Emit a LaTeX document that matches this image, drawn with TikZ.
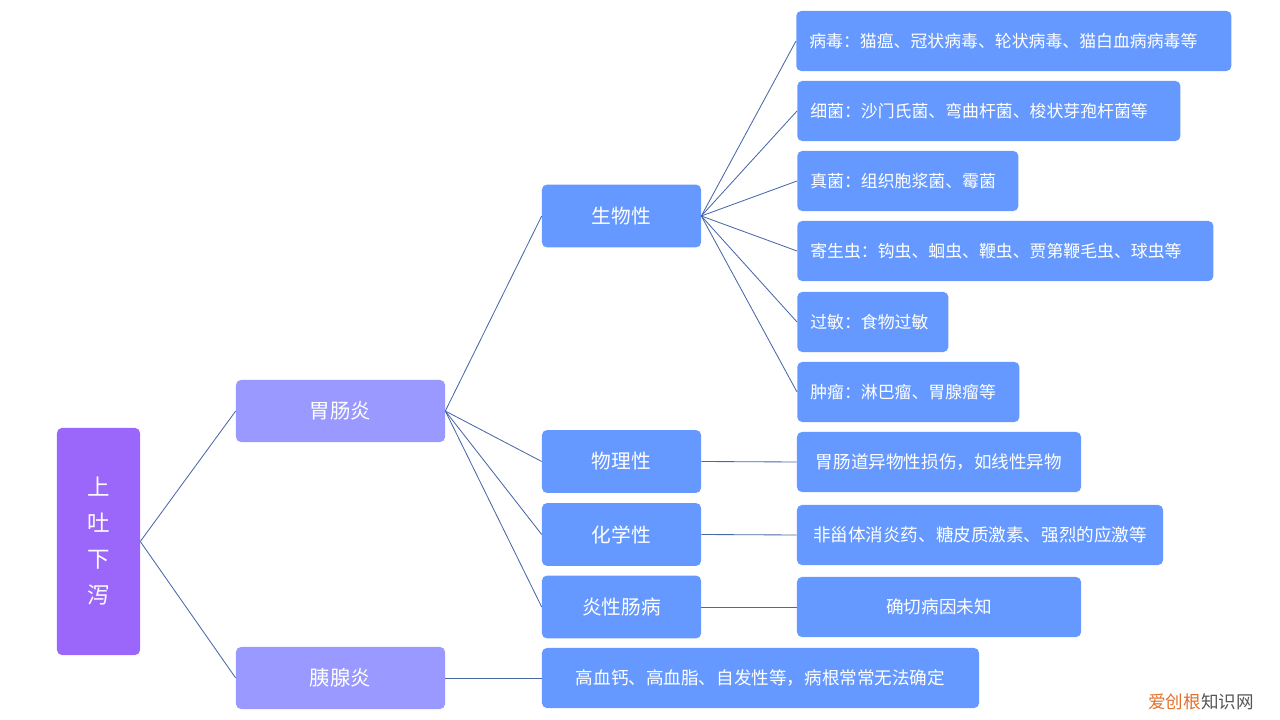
\documentclass[tikz,border=0pt]{standalone}
\usepackage{fontspec}
\setmainfont{Noto Sans CJK SC}
\usetikzlibrary{positioning}

\definecolor{rootpurple}{HTML}{9B66FA}
\definecolor{lavender}{HTML}{9999FF}
\definecolor{boxblue}{HTML}{6699FF}
\definecolor{linkblue}{HTML}{4A67A8}
\definecolor{markorange}{HTML}{E0702A}
\definecolor{markgray}{HTML}{555555}

\begin{document}
\begin{tikzpicture}[
  x = 0.025cm, y = -0.025cm,
  % ── Base box ────────────────────────────────────────────
  box/.style={
    rectangle,
    rounded corners = 3.5pt,
    draw            = none,
    text            = white,
    align           = center,
    inner sep       = 0pt
  },
  % ── Root (vertical text) ────────────────────────────────
  rootbox/.style={
    box,
    fill           = rootpurple,
    minimum width  = 2.075cm,
    minimum height = 5.675cm,
    font           = \fontsize{16}{25.6}\selectfont
  },
  % ── Disease level ───────────────────────────────────────
  disbox/.style={
    box,
    fill           = lavender,
    minimum width  = 5.225cm,
    minimum height = 1.55cm,
    font           = \fontsize{14.5}{16}\selectfont
  },
  % ── Cause type level ────────────────────────────────────
  typebox/.style={
    box,
    fill           = boxblue,
    minimum width  = 3.975cm,
    minimum height = 1.57cm,
    font           = \fontsize{14}{16}\selectfont
  },
  % ── Detail, left aligned ────────────────────────────────
  leafl/.style={
    box,
    fill           = boxblue,
    anchor         = west,
    inner xsep     = 0.325cm,
    text width     = #1,
    align          = left,
    minimum height = 1.5cm,
    font           = \fontsize{12}{14}\selectfont
  },
  % ── Detail, centred ─────────────────────────────────────
  leafc/.style={
    box,
    fill           = boxblue,
    minimum width  = #1,
    minimum height = 1.5cm,
    font           = \fontsize{12.5}{14}\selectfont
  },
  % ── Connector ───────────────────────────────────────────
  link/.style={
    draw       = linkblue,
    line width = 0.6pt
  }
]

\useasboundingbox (0,0) rectangle (1280,720);

% ── Nodes ──────────────────────────────────────────────────
\node[rootbox] (root) at (98.5,541.5) {上\\吐\\下\\泻};

\node[disbox] (gastro) at (340.5,411) {胃肠炎};
\node[disbox] (pancr)  at (340.5,678) {胰腺炎};

\node[typebox] (bio)  at (621.5,216)   {生物性};
\node[typebox] (phys) at (621.5,461.5) {物理性};
\node[typebox] (chem) at (621.5,534.5) {化学性};
\node[typebox] (ibd)  at (621.5,607)   {炎性肠病};

\node[leafl=10.225cm] (virus)  at (796,41)  {病毒：猫瘟、冠状病毒、轮状病毒、猫白血病病毒等};
\node[leafl=8.925cm]  (bact)   at (797,111) {细菌：沙门氏菌、弯曲杆菌、梭状芽孢杆菌等};
\node[leafl=4.875cm]  (fungus) at (797,181) {真菌：组织胞浆菌、霉菌};
\node[leafl=9.75cm]   (para)   at (797,251) {寄生虫：钩虫、蛔虫、鞭虫、贾第鞭毛虫、球虫等};
\node[leafl=3.125cm]  (allerg) at (797,322) {过敏：食物过敏};
\node[leafl=4.9cm]    (tumor)  at (797,392) {肿瘤：淋巴瘤、胃腺瘤等};

\node[leafc=7.1cm]    (foreign) at (939,462) {胃肠道异物性损伤，如线性异物};
\node[leafc=9.15cm]   (drugs)   at (980,535) {非甾体消炎药、糖皮质激素、强烈的应激等};
\node[leafc=7.1cm]    (unknown) at (939,607) {确切病因未知};
\node[leafc=10.925cm] (lipid)   at (760.5,678) {高血钙、高血脂、自发性等，病根常常无法确定};

% ── Watermark ──────────────────────────────────────────────
\node[font=\fontsize{12.5}{14}\selectfont, inner sep=0pt] (mark) at (1201,702)
  {\textcolor{markorange}{爱创根}\textcolor{markgray}{知识网}};

% ── Connectors ─────────────────────────────────────────────
\foreach \f/\t in {root/gastro, root/pancr,
                   gastro/bio, gastro/phys, gastro/chem, gastro/ibd,
                   bio/virus, bio/bact, bio/fungus, bio/para, bio/allerg, bio/tumor,
                   phys/foreign, chem/drugs, ibd/unknown, pancr/lipid}
  \draw[link] (\f.east) -- (\t.west);

\end{tikzpicture}
\end{document}
